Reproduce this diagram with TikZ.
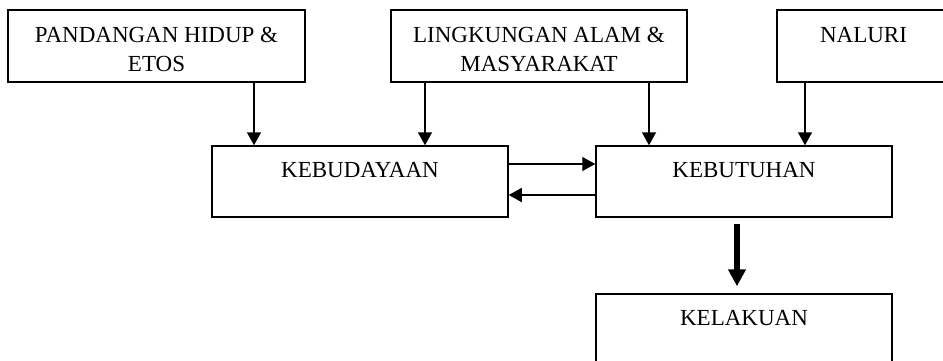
\documentclass[tikz,border=0pt]{standalone}
\usepackage{fontspec}
\setmainfont{Liberation Serif}
\usepackage{tikz}
\usetikzlibrary{arrows.meta}

\begin{document}
\begin{tikzpicture}[x=1pt,y=-1pt,
  font=\fontsize{23}{29}\selectfont,
  box/.style={draw,rectangle,line width=1.5pt,inner sep=0pt,align=center,
    minimum width=296pt,text height=31pt,text depth=40pt},
  twoline/.style={text height=61pt,text depth=11pt},
  arr/.style={line width=1.5pt,-{Triangle[width=14pt,length=13pt]}},
  bigarr/.style={line width=6.5pt,-{Triangle[width=17pt,length=17pt]}}]
  \useasboundingbox (0,0) rectangle (943,360);
  \clip (0,0) rectangle (943,360);
  \node[box,twoline,minimum width=297pt] (pandangan) at (156.5,46) {PANDANGAN HIDUP \&\\ETOS};
  \node[box,twoline] (lingkungan) at (539,46) {LINGKUNGAN ALAM \&\\MASYARAKAT};
  \node[box,minimum width=173pt,text height=32pt] (naluri) at (863.5,46) {NALURI};
  \node[box] (kebudayaan) at (360,181.5) {KEBUDAYAAN};
  \node[box] (kebutuhan) at (744,181.5) {KEBUTUHAN};
  \node[box] (kelakuan) at (744,329.5) {KELAKUAN};
  % arrows from the top row
  \draw[arr] ([xshift=97.5pt]pandangan.south) -- ([xshift=97.5pt]pandangan.south |- kebudayaan.north);
  \draw[arr] ([xshift=-114pt]lingkungan.south) -- ([xshift=-114pt]lingkungan.south |- kebudayaan.north);
  \draw[arr] ([xshift=110pt]lingkungan.south) -- ([xshift=110pt]lingkungan.south |- kebutuhan.north);
  \draw[arr] ([xshift=-58.5pt]naluri.south) -- ([xshift=-58.5pt]naluri.south |- kebutuhan.north);
  % between kebudayaan and kebutuhan
  \draw[arr] ([yshift=17.5pt]kebudayaan.east) -- ([yshift=17.5pt]kebudayaan.east -| kebutuhan.west);
  \draw[arr] ([yshift=-13.5pt]kebutuhan.west) -- ([yshift=-13.5pt]kebutuhan.west -| kebudayaan.east);
  \draw[bigarr,shorten <=6pt,shorten >=7pt] ([xshift=-7pt]kebutuhan.south) -- ([xshift=-7pt]kelakuan.north);
\end{tikzpicture}
\end{document}
